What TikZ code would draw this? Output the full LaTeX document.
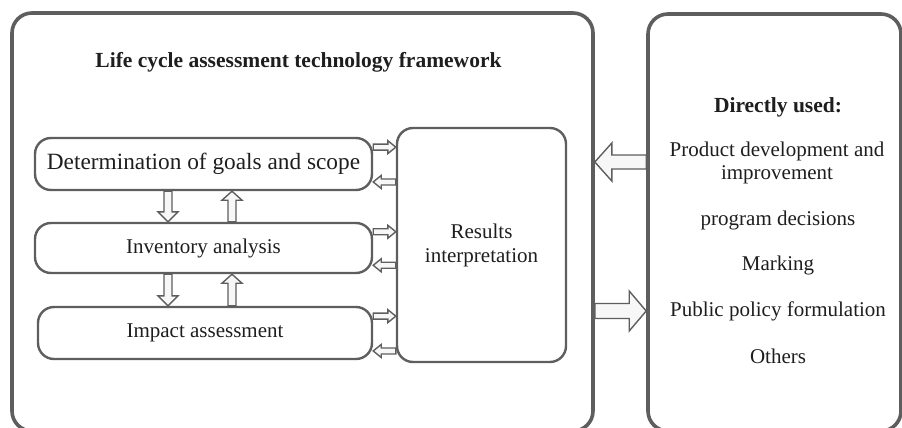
\documentclass[tikz,border=0pt]{standalone}
\usepackage{fontspec}
\setmainfont{Liberation Serif}
\usetikzlibrary{calc,backgrounds}
\definecolor{edge}{HTML}{5E5E5E}
\definecolor{ink}{HTML}{1E1E1E}
\definecolor{arrowfill}{HTML}{F7F7F7}

% hollow block arrow: [style]{from}{to}{half shaft}{half head}{head length}
\newcommand\hollowarrow[6][]{%
  \coordinate (hb) at ($(#3)!#6!(#2)$);
  \draw[arrowline,#1]
    ($(#2)!#4!90:(#3)$) -- ($(hb)!#4!-90:(#2)$) -- ($(hb)!#5!-90:(#2)$) --
    (#3) -- ($(hb)!#5!90:(#2)$) -- ($(hb)!#4!90:(#2)$) --
    ($(#2)!#4!-90:(#3)$) -- cycle;
}

\tikzset{
  frame/.style={draw=edge, line width=3.6pt, rounded corners=20pt, inner sep=0pt},
  stage/.style={draw=edge, line width=2.4pt, rounded corners=16pt, inner sep=0pt,
    text=ink, font=\fontsize{21pt}{24pt}\selectfont, align=center},
  heading/.style={text=ink, font=\bfseries\fontsize{21.5pt}{24pt}\selectfont},
  item/.style={text=ink, font=\fontsize{21pt}{23pt}\selectfont, align=center},
  arrowline/.style={draw=edge, line width=1.4pt, fill=arrowfill, line join=miter},
}

\begin{document}
\begin{tikzpicture}[x=1pt, y=-1pt]
\useasboundingbox (0,0) rectangle (902,428);

% outer frames (their lower edges run just past the page)
\node[frame, minimum width=581pt, minimum height=418pt] (frame) at (302.5,222) {};
\node[frame, minimum width=253pt, minimum height=417pt] (use) at (774.5,222.5) {};

\node[heading] (title) at (298.5,62) {Life cycle assessment technology framework};

% phases
\node[stage, minimum width=337pt, minimum height=52pt,
      font=\fontsize{23.3pt}{26pt}\selectfont] (goal) at (203.5,164) {Determination of goals and scope};
\node[stage, minimum width=337pt, minimum height=50pt] (inv) at (203.5,248) {Inventory analysis};
\node[stage, minimum width=334pt, minimum height=52pt] (imp) at (205,333) {Impact assessment};
\node[stage, minimum width=169pt, minimum height=234pt] (res) at (481.5,245) {Results\\interpretation};

% applications
\node[heading] (d0) at (778,107) {Directly used:};
\node[item] (d1) at (777,163) {Product development and\\improvement};
\node[item] (d2) at (778,220) {program decisions};
\node[item] (d3) at (778,265) {Marking};
\node[item] (d4) at (778,311) {Public policy formulation};
\node[item] (d5) at (778,356) {Others};

% columns of the vertical arrows
\coordinate (dn) at (168,0);
\coordinate (up) at (232,0);

\begin{pgfonlayer}{background}
  % between phases
  \hollowarrow{goal.south -| dn}{inv.north -| dn}{4pt}{10pt}{10pt}
  \hollowarrow{inv.north -| up}{goal.south -| up}{4pt}{10pt}{9pt}
  \hollowarrow{inv.south -| dn}{imp.north -| dn}{4pt}{10pt}{10pt}
  \hollowarrow{imp.north -| up}{inv.south -| up}{4pt}{10pt}{9pt}
  % phases to and from interpretation
  \foreach \p in {goal,inv,imp}{
    \coordinate (a) at ($(\p.north east)!0.19!(\p.south east)$);
    \coordinate (b) at ($(\p.north east)!0.83!(\p.south east)$);
    \hollowarrow{a}{res.west |- a}{3pt}{6.5pt}{8pt}
    \hollowarrow{res.west |- b}{b}{3pt}{6.5pt}{8pt}
  }
  % framework to and from applications
  \coordinate (la) at (0,162);
  \coordinate (ra) at (0,311);
  \hollowarrow{use.west |- la}{frame.east |- la}{7pt}{19pt}{17pt}
  \hollowarrow{frame.east |- ra}{use.west |- ra}{7.5pt}{20pt}{17pt}
\end{pgfonlayer}
\end{tikzpicture}
\end{document}
